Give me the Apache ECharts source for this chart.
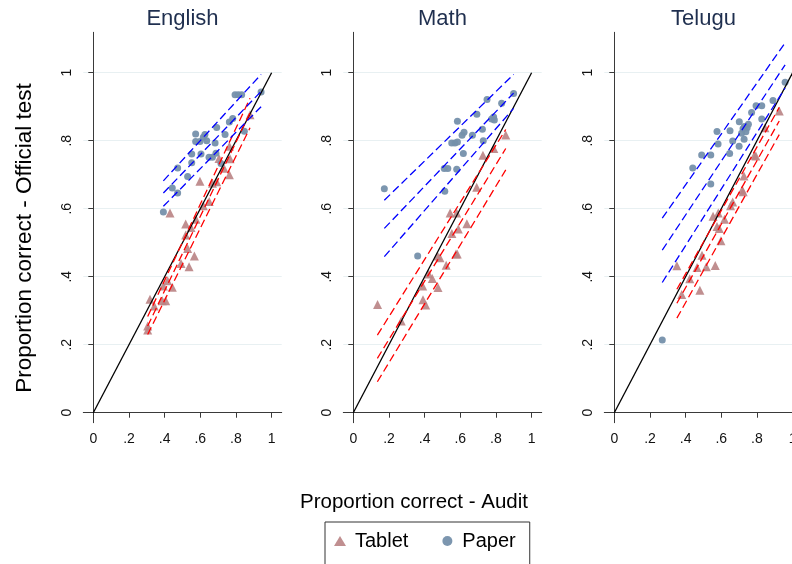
<!DOCTYPE html>
<html><head><meta charset="utf-8">
<script src="https://cdn.jsdelivr.net/npm/echarts@6/dist/echarts.min.js"></script>
<style>html,body{margin:0;padding:0;background:#fff}#c{width:792px;height:564px}</style>
</head><body><div id="c"></div>
<script>
// ---- data ----
const subjects = ['English', 'Math', 'Telugu'];
const xTicks = [0, 0.2, 0.4, 0.6, 0.8, 1];
const yTicks = [0, 0.2, 0.4, 0.6, 0.8, 1];
const tickText = ['0', '.2', '.4', '.6', '.8', '1'];

const englishPaper = [[0.393,0.590],[0.443,0.661],[0.473,0.646],[0.473,0.720],[0.529,0.695],[0.552,0.735],[0.552,0.761],[0.604,0.761],[0.574,0.820],[0.574,0.798],[0.598,0.798],[0.617,0.810],[0.626,0.818],[0.636,0.800],[0.683,0.793],[0.649,0.751],[0.668,0.751],[0.688,0.763],[0.692,0.839],[0.716,0.733],[0.739,0.818],[0.763,0.855],[0.782,0.865],[0.795,0.935],[0.813,0.935],[0.832,0.935],[0.847,0.828],[0.941,0.943]];
const englishTablet = [[0.305,0.255],[0.305,0.243],[0.318,0.334],[0.342,0.314],[0.387,0.329],[0.406,0.329],[0.393,0.373],[0.417,0.388],[0.443,0.369],[0.430,0.587],[0.492,0.439],[0.537,0.429],[0.567,0.461],[0.529,0.483],[0.518,0.523],[0.518,0.555],[0.548,0.545],[0.576,0.569],[0.598,0.681],[0.617,0.609],[0.650,0.621],[0.668,0.675],[0.692,0.679],[0.705,0.748],[0.733,0.719],[0.763,0.700],[0.763,0.784],[0.767,0.747],[0.879,0.876]];
const mathPaper = [[0.174,0.659],[0.361,0.461],[0.513,0.651],[0.510,0.718],[0.530,0.718],[0.580,0.716],[0.552,0.793],[0.570,0.793],[0.584,0.796],[0.584,0.857],[0.610,0.816],[0.621,0.825],[0.617,0.762],[0.668,0.816],[0.693,0.878],[0.724,0.834],[0.729,0.800],[0.750,0.921],[0.776,0.864],[0.787,0.870],[0.791,0.861],[0.832,0.910],[0.899,0.939]];
const mathTablet = [[0.136,0.318],[0.269,0.270],[0.389,0.373],[0.391,0.332],[0.406,0.317],[0.423,0.408],[0.443,0.395],[0.475,0.368],[0.473,0.461],[0.486,0.456],[0.521,0.434],[0.576,0.467],[0.583,0.467],[0.553,0.527],[0.589,0.540],[0.637,0.556],[0.543,0.587],[0.580,0.587],[0.692,0.663],[0.727,0.757],[0.788,0.777],[0.855,0.817]];
const teluguPaper = [[0.269,0.214],[0.440,0.720],[0.490,0.758],[0.541,0.758],[0.541,0.673],[0.576,0.827],[0.582,0.790],[0.649,0.829],[0.647,0.762],[0.664,0.799],[0.700,0.784],[0.701,0.856],[0.714,0.822],[0.722,0.835],[0.730,0.842],[0.738,0.826],[0.745,0.838],[0.752,0.848],[0.728,0.804],[0.770,0.883],[0.795,0.903],[0.827,0.903],[0.827,0.864],[0.890,0.918],[0.958,0.972]];
const teluguTablet = [[0.351,0.432],[0.378,0.348],[0.423,0.394],[0.464,0.427],[0.516,0.429],[0.566,0.433],[0.480,0.360],[0.492,0.463],[0.598,0.506],[0.554,0.578],[0.583,0.587],[0.576,0.548],[0.589,0.542],[0.618,0.569],[0.652,0.609],[0.664,0.620],[0.717,0.655],[0.723,0.650],[0.727,0.696],[0.786,0.757],[0.794,0.755],[0.845,0.838],[0.925,0.887]];

// fitted lines and bands (endpoints)
const englishPaperFit = [[0.393,0.646],[0.941,0.945]];
const englishPaperHi  = [[0.393,0.682],[0.941,0.995]];
const englishPaperLo  = [[0.393,0.607],[0.941,0.900]];
const englishTabletFit = [[0.305,0.255],[0.879,0.882]];
const englishTabletHi  = [[0.305,0.283],[0.879,0.925]];
const englishTabletLo  = [[0.305,0.230],[0.879,0.838]];
const mathPaperFit = [[0.174,0.542],[0.899,0.940]];
const mathPaperHi  = [[0.174,0.625],[0.899,0.995]];
const mathPaperLo  = [[0.174,0.459],[0.899,0.895]];
const mathTabletFit = [[0.135,0.160],[0.855,0.777]];
const mathTabletHi  = [[0.135,0.228],[0.855,0.833]];
const mathTabletLo  = [[0.135,0.091],[0.855,0.714]];
const teluguPaperFit = [[0.269,0.478],[0.958,1.023]];
const teluguPaperHi  = [[0.269,0.572],[0.958,1.088]];
const teluguPaperLo  = [[0.269,0.383],[0.958,0.955]];
const teluguTabletFit = [[0.351,0.322],[0.925,0.858]];
const teluguTabletHi  = [[0.351,0.363],[0.925,0.898]];
const teluguTabletLo  = [[0.351,0.278],[0.925,0.818]];
const diagonal = [[0, 0], [1, 1]];

// ---- layout ----
const FONT = '"Liberation Sans", Arial, Helvetica, sans-serif';
const panelLeft = [83.3, 343.3, 604.3];
const gridTop = 32.3, gridW = 198.4, gridH = 390.4;
const panels = [
  {tablet: englishTablet, paper: englishPaper, lines: [englishPaperFit, englishPaperHi, englishPaperLo], tlines: [englishTabletFit, englishTabletHi, englishTabletLo]},
  {tablet: mathTablet, paper: mathPaper, lines: [mathPaperFit, mathPaperHi, mathPaperLo], tlines: [mathTabletFit, mathTabletHi, mathTabletLo]},
  {tablet: teluguTablet, paper: teluguPaper, lines: [teluguPaperFit, teluguPaperHi, teluguPaperLo], tlines: [teluguTabletFit, teluguTabletHi, teluguTabletLo]}
];
const fmt = v => { const i = xTicks.findIndex(t => Math.abs(t - v) < 1e-6); return i >= 0 ? tickText[i] : ''; };
const axisCol = '#3a3a3a';

const grid = [], xAxis = [], yAxis = [], series = [];
panels.forEach((p, i) => {
  grid.push({left: panelLeft[i], top: gridTop, width: gridW, height: gridH, containLabel: false, outerBoundsMode: 'none'});
  xAxis.push({type: 'value', gridIndex: i, min: -0.0561, max: 1.0566,
    axisLine: {show: true, lineStyle: {color: axisCol, width: 1}},
    axisTick: {show: true, customValues: xTicks, length: 5, lineStyle: {color: axisCol}},
    axisLabel: {customValues: xTicks, formatter: fmt, fontSize: 14, color: '#111', fontFamily: FONT, margin: 9},
    splitLine: {show: false}});
  yAxis.push({type: 'value', gridIndex: i, min: -0.0294, max: 1.1188,
    axisLine: {show: true, lineStyle: {color: axisCol, width: 1}},
    axisTick: {show: true, customValues: yTicks, length: 5, lineStyle: {color: axisCol}},
    axisLabel: {customValues: yTicks, formatter: fmt, fontSize: 14, color: '#111', fontFamily: FONT, rotate: 90, margin: 9},
    splitLine: {show: true, lineStyle: {color: '#e8f0f2', width: 1}}});
  const base = {xAxisIndex: i, yAxisIndex: i, animation: false, silent: true};
  series.push(Object.assign({type: 'line', name: 'diag' + i, data: diagonal, showSymbol: false,
    lineStyle: {color: '#000', width: 1.3}, z: 3}, base));
  p.tlines.forEach((d, k) => series.push(Object.assign({type: 'line', name: 'tfit' + i + k, data: d, showSymbol: false,
    lineStyle: {color: '#ff0000', width: 1.3, type: [8, 4]}, z: 4}, base)));
  p.lines.forEach((d, k) => series.push(Object.assign({type: 'line', name: 'pfit' + i + k, data: d, showSymbol: false,
    lineStyle: {color: '#0000ff', width: 1.3, type: [8, 4]}, z: 4}, base)));
  series.push(Object.assign({type: 'scatter', name: 'Tablet', data: p.tablet, symbol: 'triangle', symbolSize: 9,
    itemStyle: {color: '#b98384', opacity: 0.9}, z: 2}, base));
  series.push(Object.assign({type: 'scatter', name: 'Paper', data: p.paper, symbol: 'circle', symbolSize: 7,
    itemStyle: {color: '#7590ab', opacity: 0.95}, z: 2}, base));
});

const titleCol = '#1f2f4f';
const graphic = subjects.map((s, i) => ({type: 'text', x: panelLeft[i] + gridW / 2, y: 19,
  style: {text: s, fill: titleCol, font: '22px ' + FONT, textAlign: 'center', textVerticalAlign: 'middle'}}));
graphic.push({type: 'text', x: 414, y: 502, style: {text: 'Proportion correct - Audit', fill: '#000', font: '20.5px ' + FONT, textAlign: 'center', textVerticalAlign: 'middle'}});
graphic.push({type: 'text', x: 25, y: 238, rotation: Math.PI / 2, style: {text: 'Proportion correct - Official test', fill: '#000', font: '22.5px ' + FONT, textAlign: 'center', textVerticalAlign: 'middle'}});

const chart = echarts.init(document.getElementById('c'), null, {renderer: 'canvas'});
chart.setOption({
  animation: false,
  backgroundColor: '#fff',
  grid, xAxis, yAxis, series, graphic,
  legend: {data: ['Tablet', 'Paper'], left: 325, top: 522, orient: 'horizontal',
    borderColor: '#333', borderWidth: 1, padding: [9, 14, 14, 9], itemGap: 34, itemWidth: 12, itemHeight: 10,
    textStyle: {fontSize: 20, color: '#000', fontFamily: FONT, padding: [0, 0, 0, 4]}}
});
</script></body></html>
